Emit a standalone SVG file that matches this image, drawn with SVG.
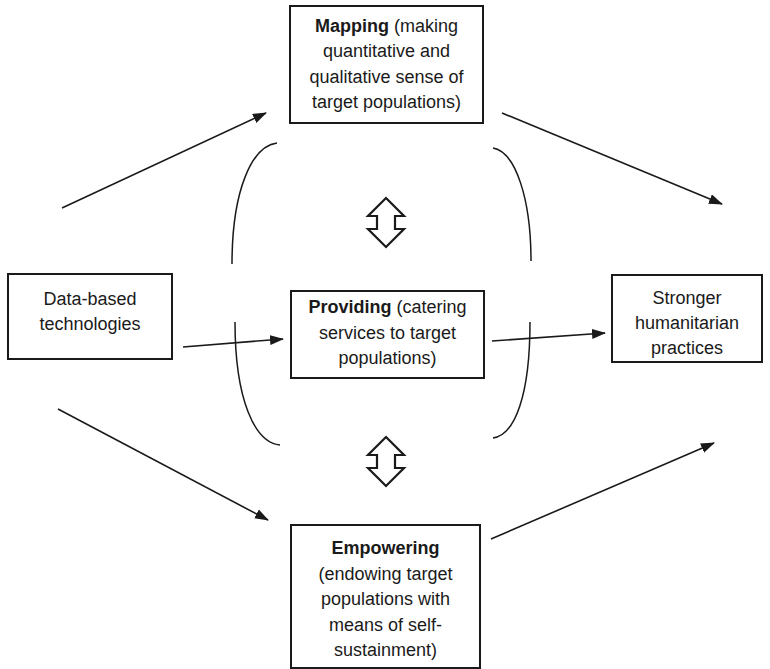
<svg xmlns="http://www.w3.org/2000/svg" width="770" height="669" viewBox="0 0 770 669">
<style>
.box{fill:#fff;stroke:#1a1a1a;stroke-width:2}
.t{font-family:"Liberation Sans",Arial,sans-serif;font-size:18px;fill:#1a1a1a;text-anchor:middle}
.b{font-weight:bold}
.ln{stroke:#1a1a1a;stroke-width:1.6;fill:none}
.arc{stroke:#1a1a1a;stroke-width:1.5;fill:none}
.dbl{fill:#fff;stroke:#1a1a1a;stroke-width:2.2;stroke-linejoin:miter}
</style>
<defs>
<marker id="ah" markerWidth="14" markerHeight="10" refX="13" refY="5" orient="auto" markerUnits="userSpaceOnUse">
<path d="M0,0 L14,5 L0,10 Z" fill="#1a1a1a"/>
</marker>
</defs>
<rect width="770" height="669" fill="#fff"/>
<g id="connectors">
<line class="ln" x1="62" y1="208" x2="266" y2="113" marker-end="url(#ah)"/>
<line class="ln" x1="502" y1="113" x2="722" y2="204" marker-end="url(#ah)"/>
<line class="ln" x1="183" y1="347" x2="283" y2="339" marker-end="url(#ah)"/>
<line class="ln" x1="492" y1="341" x2="605" y2="333" marker-end="url(#ah)"/>
<line class="ln" x1="58" y1="409" x2="268" y2="520" marker-end="url(#ah)"/>
<line class="ln" x1="491" y1="539" x2="714" y2="443" marker-end="url(#ah)"/>
<path class="arc" d="M277,143 C252,146 232,190 232,264"/>
<path class="arc" d="M493,148 C516,152 531,200 531,261"/>
<path class="arc" d="M235,322 C235,400 255,443 280,445"/>
<path class="arc" d="M530,322 C530,395 515,435 493,438"/>
<path class="dbl" d="M386,198 L404,216 L395,216 L395,229 L404,229 L386,247 L368,229 L377,229 L377,216 L368,216 Z"/>
<path class="dbl" d="M386,437 L404,455 L395,455 L395,468 L404,468 L386,486 L368,468 L377,468 L377,455 L368,455 Z"/>
</g>
<g id="mapping">
<rect class="box" x="290" y="6" width="193" height="117"/>
<text class="t" x="386.5" y="32"><tspan class="b">Mapping</tspan> (making</text>
<text class="t" x="386.5" y="57">quantitative and</text>
<text class="t" x="386.5" y="83">qualitative sense of</text>
<text class="t" x="386.5" y="108">target populations)</text>
</g>
<g id="data">
<rect class="box" x="8" y="274" width="164" height="85"/>
<text class="t" x="90" y="305">Data-based</text>
<text class="t" x="90" y="330">technologies</text>
</g>
<g id="providing">
<rect class="box" x="291" y="291" width="193" height="87"/>
<text class="t" x="387.5" y="313"><tspan class="b">Providing</tspan> (catering</text>
<text class="t" x="387.5" y="339">services to target</text>
<text class="t" x="387.5" y="364">populations)</text>
</g>
<g id="stronger">
<rect class="box" x="612" y="275" width="150" height="87"/>
<text class="t" x="687" y="304">Stronger</text>
<text class="t" x="687" y="329">humanitarian</text>
<text class="t" x="687" y="354">practices</text>
</g>
<g id="empowering">
<rect class="box" x="291" y="525" width="189" height="143"/>
<text class="t b" x="385.5" y="554">Empowering</text>
<text class="t" x="385.5" y="580">(endowing target</text>
<text class="t" x="385.5" y="605">populations with</text>
<text class="t" x="385.5" y="631">means of self-</text>
<text class="t" x="385.5" y="656">sustainment)</text>
</g>
</svg>
